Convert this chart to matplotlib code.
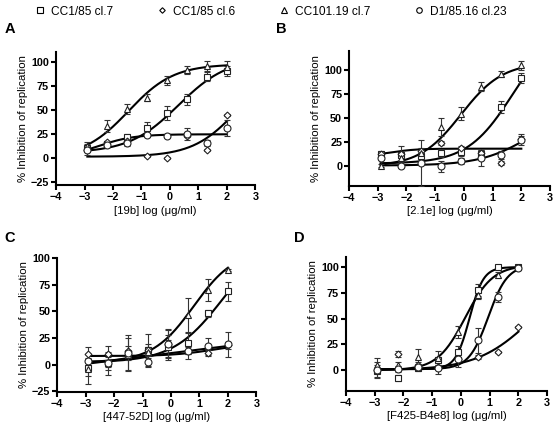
import numpy as np
import matplotlib
matplotlib.use("Agg")
import matplotlib.pyplot as plt
from matplotlib.lines import Line2D

plt.rcParams['font.family'] = ['Liberation Sans', 'DejaVu Sans']

# concentrations, log (ug/ml)
x_log = [-2.9, -2.2, -1.5, -0.8, -0.1, 0.6, 1.3, 2.0]

series_names = ['CC1/85 cl.7', 'CC1/85 cl.6', 'CC101.19 cl.7', 'D1/85.16 cl.23']
panel_letters = ['A', 'B', 'C', 'D']
x_labels = ['[19b] log (\u03bcg/ml)', '[2.1e] log (\u03bcg/ml)',
            '[447-52D] log (\u03bcg/ml)', '[F425-B4e8] log (\u03bcg/ml)']

# panel A (19b)
a_sq = [10, 14, 22, 31, 47, 61, 85, 91]
a_sq_err = [4, 3, 3, 6, 7, 6, 5, 5]
a_dia = [8, 16, 17, 1.5, 0, 23, 8, 45]
a_dia_err = [1, 1, 1, 1, 1, 1, 1, 1]
a_tri = [12, 33, 51, 63, 81, 92, 96, 95]
a_tri_err = [4, 6, 5, 4, 5, 4, 5, 6]
a_cir = [8, 13, 15, 24, 23, 25, 15, 31]
a_cir_err = [5, 2, 3, 2, 1, 6, 3, 8]

# panel B (2.1e)
b_sq = [13, 12, 11, 14, 15, 13, 62, 92]
b_sq_err = [3, 3, 5, 4, 4, 4, 6, 5]
b_dia = [13, 13, 16, 24, 19, 14, 4, 29]
b_dia_err = [2, 8, 3, 2, 2, 2, 2, 3]
b_tri = [1, 9, 14, 41, 55, 83, 96, 105]
b_tri_err = [2, 3, 3, 9, 7, 5, 3, 5]
b_cir = [9, 1, 4, 0, 6, 9, 12, 28]
b_cir_err = [2, 2, 24, 6, 3, 8, 4, 6]

# panel C (447-52D)
c_sq = [-3, 1, 10, 14, 16, 20, 48, 69]
c_sq_err = [8, 11, 15, 5, 12, 10, 3, 9]
c_dia = [10, 10, 13, 14, 19, 13, 11, 18]
c_dia_err = [6, 7, 4, 15, 4, 3, 3, 3]
c_tri = [-4, 1, 9, 12, 20, 47, 70, 89]
c_tri_err = [14, 3, 5, 4, 13, 16, 10, 1]
c_cir = [3, 1, 11, 2, 19, 13, 17, 19]
c_cir_err = [3, 6, 17, 4, 13, 8, 8, 12]

# panel D (F425-B4e8)
d_sq = [-1, -8, 2, 10, 18, 78, 100, 100]
d_sq_err = [6, 3, 3, 3, 5, 6, 1, 2]
d_dia = [0, 16, 5, 3, 11, 12.5, 18, 42]
d_dia_err = [2, 3, 3, 2, 2, 2, 1, 1]
d_tri = [5, 5, 13, 12, 37, 73, 92, 100]
d_tri_err = [7, 3, 8, 7, 6, 4, 3, 2]
d_cir = [0, 1, 3, 2, 11, 29, 71, 99]
d_cir_err = [8, 3, 3, 6, 8, 12, 5, 2]

# fitted curves: bottom, top, logEC50, hill
a_fits = [[5, 105, 0.3, 0.5], [1, 100, 2.4, 0.55], [0, 98, -1.45, 0.55], [0, 24.5, -2.5, 0.7]]
b_fits = [[3, 147, 1.7, 0.55], [11, 18.5, -2.5, 1.0], [0, 108, -0.1, 0.6], [1, 60, 2.3, 0.5]]
c_fits = [[2, 120, 1.8, 0.5], [8, 20, 1.5, 0.6], [2, 108, 0.8, 0.6], [-21, 39, -0.5, 0.1]]
d_fits = [[1, 100, 0.3, 1.8], [0, 100, 2.5, 0.45], [0, 102, 0.15, 0.9], [1, 102, 0.95, 1.3]]

markers = ['s', 'D', '^', 'o']
msizes = [5, 3.5, 5, 5]


def logistic(x, p):
    bottom, top, ec50, hill = p
    return bottom + (top - bottom) / (1 + 10 ** ((ec50 - x) * hill))


panels = [
    ([a_sq, a_dia, a_tri, a_cir], [a_sq_err, a_dia_err, a_tri_err, a_cir_err], a_fits,
     [0.101, 0.567, 0.359, 0.312], (-29, 111), [-25, 0, 25, 50, 75, 100]),
    ([b_sq, b_dia, b_tri, b_cir], [b_sq_err, b_dia_err, b_tri_err, b_cir_err], b_fits,
     [0.629, 0.566, 0.362, 0.315], (-20, 120), [0, 25, 50, 75, 100]),
    ([c_sq, c_dia, c_tri, c_cir], [c_sq_err, c_dia_err, c_tri_err, c_cir_err], c_fits,
     [0.103, 0.085, 0.359, 0.313], (-25.5, 100.5), [-25, 0, 25, 50, 75, 100]),
    ([d_sq, d_dia, d_tri, d_cir], [d_sq_err, d_dia_err, d_tri_err, d_cir_err], d_fits,
     [0.623, 0.087, 0.363, 0.313], (-20, 110), [0, 25, 50, 75, 100]),
]
letter_pos = [(0.008, 0.922), (0.497, 0.922), (0.008, 0.435), (0.530, 0.435)]

fig = plt.figure(figsize=(5.55, 4.28), dpi=100)

xs = np.linspace(x_log[0], x_log[-1], 200)
for k, (ys, errs, fits, pos, ylim, yticks) in enumerate(panels):
    ax = fig.add_axes(pos)
    for i in range(4):
        ax.plot(xs, logistic(xs, fits[i]), color='black', lw=1.5, zorder=2)
        ax.errorbar(x_log, ys[i], yerr=errs[i], fmt='none', ecolor='#333333',
                    elinewidth=0.8, capsize=2.5, capthick=0.8, zorder=3)
        ax.plot(x_log, ys[i], linestyle='none', marker=markers[i], ms=msizes[i],
                mfc='white', mec='#222222', mew=0.8, zorder=4, clip_on=False)
    ax.set_xlim(-4, 3)
    ax.set_ylim(*ylim)
    ax.set_xticks(range(-4, 4))
    ax.set_yticks(yticks)
    for s in ['top', 'right']:
        ax.spines[s].set_visible(False)
    for s in ['left', 'bottom']:
        ax.spines[s].set_linewidth(1.5)
    ax.tick_params(direction='out', length=3.5, width=1.5, labelsize=7.8, pad=1.5)
    for t in ax.get_xticklabels() + ax.get_yticklabels():
        t.set_fontweight('bold')
    ax.set_xlabel(x_labels[k], fontsize=8.2, labelpad=2.5)
    ax.set_ylabel('% Inhibition of replication', fontsize=8.2, labelpad=2)
    fig.text(letter_pos[k][0], letter_pos[k][1], panel_letters[k],
             fontsize=10.5, fontweight='bold')

handles = [Line2D([], [], linestyle='none', marker=markers[i], ms=msizes[i] * 0.8,
                  mfc='white', mec='black', mew=0.8) for i in range(4)]
fig.legend(handles, series_names, loc='upper center', bbox_to_anchor=(0.487, 1.012),
           ncol=4, frameon=False, fontsize=8.6, columnspacing=3.6, handletextpad=0.4,
           handlelength=1.0)

fig.savefig('out.png', dpi=100)
